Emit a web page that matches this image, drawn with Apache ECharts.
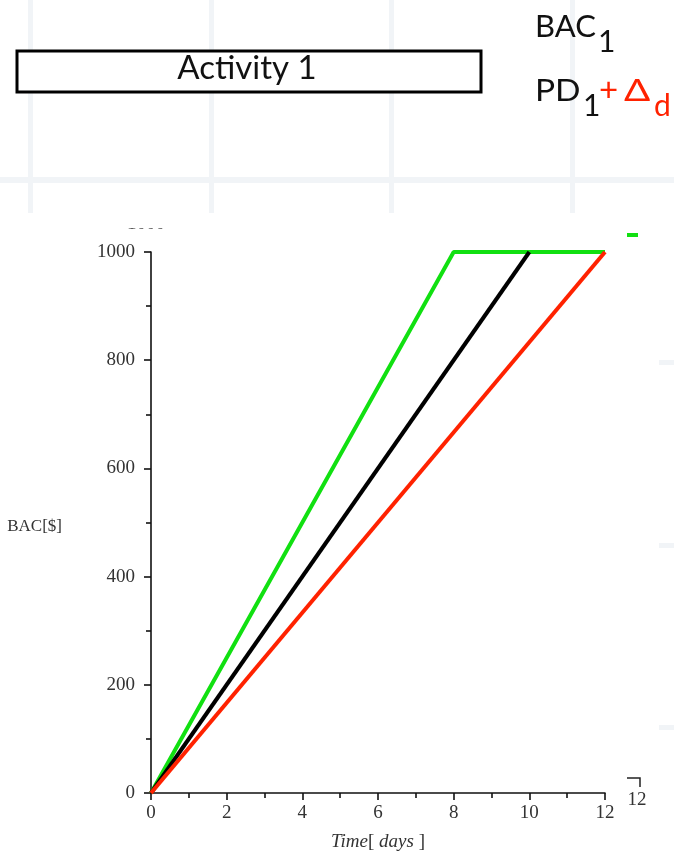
<!DOCTYPE html>
<html>
<head>
<meta charset="utf-8">
<script src="https://cdn.jsdelivr.net/npm/echarts@6/dist/echarts.min.js"></script>
<style>
  html, body { margin: 0; padding: 0; background: #fff; }
  #chart { width: 674px; height: 853px; }
</style>
</head>
<body>
<div id="chart"></div>
<script>
// Cumulative budget of Activity 1 over time, three schedule scenarios
const greenDays = [0, 8, 12];
const greenCost = [0, 1000, 1000];
const blackDays = [0, 10];
const blackCost = [0, 1000];
const redDays = [0, 12];
const redCost = [0, 1000];

const xTicks = [0, 2, 4, 6, 8, 10, 12];
const yTicks = [0, 200, 400, 600, 800, 1000];

const toPairs = (xs, ys) => xs.map((x, i) => [x, ys[i]]);

const serif = 'Liberation Serif';
const sans = 'Lato';
const gridLine = '#f1f4f7';
const green = '#11e011';
const red = '#ff2200';
const ink = '#333';

const chart = echarts.init(document.getElementById('chart'), null, { renderer: 'canvas' });

const txt = (x, y, text, font, fill, align, extra) => Object.assign({
  type: 'text', x, y, z: -5,
  style: { text, font, fill, align: align || 'left', verticalAlign: 'middle' }
}, extra || {});

const background = [
  // slide grid behind the header
  { type: 'rect', shape: { x: 28, y: 0, width: 5, height: 213 }, style: { fill: gridLine }, z: -10 },
  { type: 'rect', shape: { x: 209, y: 0, width: 5, height: 213 }, style: { fill: gridLine }, z: -10 },
  { type: 'rect', shape: { x: 389, y: 0, width: 5, height: 213 }, style: { fill: gridLine }, z: -10 },
  { type: 'rect', shape: { x: 570, y: 0, width: 5, height: 213 }, style: { fill: gridLine }, z: -10 },
  { type: 'rect', shape: { x: 0, y: 177, width: 674, height: 6 }, style: { fill: gridLine }, z: -10 },
  { type: 'rect', shape: { x: 659, y: 360, width: 15, height: 5 }, style: { fill: gridLine }, z: -10 },
  { type: 'rect', shape: { x: 659, y: 543, width: 15, height: 5 }, style: { fill: gridLine }, z: -10 },
  { type: 'rect', shape: { x: 659, y: 725, width: 15, height: 5 }, style: { fill: gridLine }, z: -10 },
  // white plot panel
  { type: 'rect', shape: { x: 0, y: 213, width: 659, height: 640 }, style: { fill: '#fff' }, z: -9 },
  // clipped leftover label at the top of the panel
  { type: 'text', x: 146, y: 224, style: { text: '1000', font: '19px ' + serif, fill: '#555', align: 'center', verticalAlign: 'middle' }, z: -8 },
  { type: 'rect', shape: { x: 115, y: 210, width: 60, height: 18 }, style: { fill: '#fff' }, z: -7 },
  // stray marks on the right
  { type: 'rect', shape: { x: 627, y: 233, width: 11, height: 4 }, style: { fill: green }, z: -6 },
  { type: 'polyline', shape: { points: [[627, 778], [640, 778], [640, 787]] }, style: { stroke: '#222', lineWidth: 1.5, fill: null }, z: -6 },
  { type: 'text', x: 637, y: 800, style: { text: '12', font: '19px ' + serif, fill: ink, align: 'center', verticalAlign: 'middle' }, z: -6 },
  // header: activity bar
  { type: 'rect', shape: { x: 17, y: 51, width: 464, height: 41 }, style: { fill: '#fff', stroke: '#000', lineWidth: 3 }, z: -5 },
  txt(247, 68, 'Activity 1', '33px ' + sans, '#111', 'center'),
  // header: BAC_1
  txt(535, 27, 'BAC', '31px ' + sans, '#111'),
  txt(598, 42, '1', '30px ' + sans, '#111'),
  // header: PD_1 + Δ_d
  txt(535, 91, 'PD', '31px ' + sans, '#111', 'left', { scaleX: 1.08, originX: 0 }),
  txt(583, 106, '1', '30px ' + sans, '#111'),
  txt(599, 90, '+', '33px ' + sans, red),
  txt(624, 91, '\u0394', '31px ' + sans, red, 'left', { scaleX: 1.25, originX: 0 }),
  txt(654, 106, 'd', '30px ' + sans, red),
  // axis names
  txt(62, 527, 'BAC[$]', '17px ' + serif, ink, 'right'),
  {
    type: 'text', x: 378, y: 842, z: -5,
    style: {
      text: '{i|Time}{u|[ }{i|days}{u| ]}',
      align: 'center', verticalAlign: 'middle',
      rich: {
        i: { fontFamily: serif, fontStyle: 'italic', fontSize: 19, fill: ink },
        u: { fontFamily: serif, fontSize: 19, fill: ink }
      }
    }
  }
];

const axisCommon = {
  axisLine: { show: true, lineStyle: { color: '#111', width: 1.6 } },
  axisTick: { show: true, inside: false, length: 7, lineStyle: { color: '#111', width: 1.6 } },
  minorTick: { show: true, splitNumber: 2, length: 5, lineStyle: { color: '#111', width: 1.6 } },
  splitLine: { show: false }
};

const option = {
  backgroundColor: '#fff',
  animation: false,
  graphic: { elements: background },
  grid: { left: 151, right: 69, top: 252, bottom: 60, containLabel: false },
  xAxis: Object.assign({
    type: 'value',
    min: 0,
    max: 12,
    interval: 2,
    axisLabel: {
      margin: 11,
      fontFamily: serif,
      fontSize: 19,
      color: ink,
      formatter: v => (xTicks.includes(v) ? String(v) : '')
    }
  }, axisCommon),
  yAxis: Object.assign({
    type: 'value',
    min: 0,
    max: 1000,
    interval: 200,
    axisLabel: {
      margin: 16,
      fontFamily: serif,
      fontSize: 19,
      color: ink,
      formatter: v => (yTicks.includes(v) ? String(v) : '')
    }
  }, axisCommon),
  series: [
    {
      type: 'line',
      data: toPairs(greenDays, greenCost),
      showSymbol: false,
      lineStyle: { color: green, width: 4 },
      z: 3
    },
    {
      type: 'line',
      data: toPairs(blackDays, blackCost),
      showSymbol: false,
      lineStyle: { color: '#000', width: 4 },
      z: 4
    },
    {
      type: 'line',
      data: toPairs(redDays, redCost),
      showSymbol: false,
      lineStyle: { color: red, width: 4 },
      z: 5
    }
  ]
};

chart.setOption(option);
</script>
</body>
</html>
